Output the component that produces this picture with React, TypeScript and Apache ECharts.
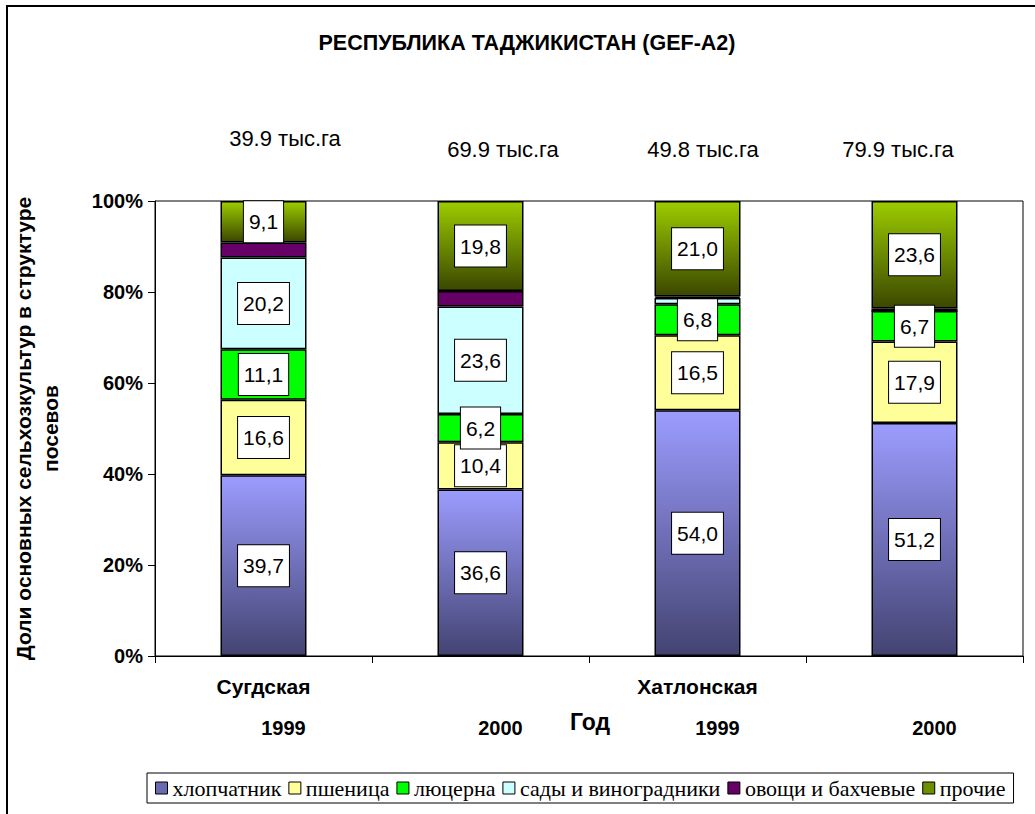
import React, { useEffect, useRef } from 'react';
import * as echarts from 'echarts';

const categories = ['Сугдская 1999', 'Сугдская 2000', 'Хатлонская 1999', 'Хатлонская 2000'];
const regionLabels = ['Сугдская', '', 'Хатлонская', ''];
const yearLabels = ['1999', '2000', '1999', '2000'];
const totals = ['39.9 тыс.га', '69.9 тыс.га', '49.8 тыс.га', '79.9 тыс.га'];
const seriesNames = ['хлопчатник', 'пшеница', 'люцерна', 'сады и виноградники', 'овощи и бахчевые', 'прочие'];
const cotton = [39.7, 36.6, 54.0, 51.2];
const wheat = [16.6, 10.4, 16.5, 17.9];
const alfalfa = [11.1, 6.2, 6.8, 6.7];
const orchards = [20.2, 23.6, 1.4, 0];
const vegetables = [3.3, 3.4, 0.3, 0.6];
const other = [9.1, 19.8, 21.0, 23.6];
const yMin = 0;
const yMax = 100;
const yStep = 20;

const SANS = '"Liberation Sans", Arial, sans-serif';
const SERIF = '"Liberation Serif", "Times New Roman", serif';

const grad = (top: string, bottom: string) =>
  new echarts.graphic.LinearGradient(0, 0, 0, 1, [
    { offset: 0, color: top },
    { offset: 1, color: bottom },
  ]);

const fills = [
  grad('#9c9cff', '#434372'),
  '#ffff99',
  '#00ff00',
  '#ccffff',
  '#660066',
  grad('#9ccc00', '#3b4700'),
];
const legendColors = ['#6a6ab0', '#ffff99', '#00ff00', '#ccffff', '#660066', '#6e8f00'];

export default function App() {
  const ref = useRef<HTMLDivElement>(null);

  useEffect(() => {
    document.body.style.margin = '0';
    if (!ref.current) return;
    const chart = echarts.init(ref.current, null, { renderer: 'svg' });
    const values = [cotton, wheat, alfalfa, orchards, vegetables, other];

    const series = seriesNames.map((name, si) => ({
      name,
      type: 'bar',
      stack: 'total',
      barWidth: 86,
      xAxisIndex: 0,
      itemStyle: { color: fills[si], borderColor: '#000', borderWidth: 1.5 },
      label: {
        show: true,
        position: 'inside',
        color: '#000',
        fontFamily: SANS,
        fontSize: 21,
        backgroundColor: '#fff',
        borderColor: '#000',
        borderWidth: 1,
        padding: [11, 5, 9, 5],
        formatter: (p: any) => Number(p.value).toFixed(1).replace('.', ','),
      },
      data: values[si].map((v) => ({ value: v, label: { show: v >= 5 } })),
    }));

    const totalX = [285, 503, 703, 898];
    const totalY = [138, 149, 149, 149];

    chart.setOption({
      animation: false,
      backgroundColor: '#fff',
      textStyle: { fontFamily: SANS },
      grid: {
        left: 155,
        right: 12,
        top: 201,
        bottom: 158,
        show: true,
        borderColor: '#000',
        borderWidth: 1,
        backgroundColor: 'transparent',
      },
      legend: {
        left: 147,
        top: 773,
        orient: 'horizontal',
        borderColor: '#000',
        borderWidth: 1,
        padding: [4, 8, 4, 8],
        itemGap: 7,
        itemWidth: 12,
        itemHeight: 12,
        icon: 'rect',
        textStyle: { fontFamily: SERIF, fontSize: 22, color: '#000', padding: [0, 0, 0, 0] },
        itemStyle: { borderColor: '#000', borderWidth: 1 },
        data: seriesNames.map((n, i) => ({ name: n, itemStyle: { color: legendColors[i], borderColor: '#000', borderWidth: 1 } })),
      },
      xAxis: [
        {
          type: 'category',
          data: categories,
          position: 'bottom',
          axisLine: { lineStyle: { color: '#000', width: 1 } },
          axisTick: { show: true, length: 7, interval: 0, lineStyle: { color: '#000' } },
          axisLabel: {
            interval: 0,
            margin: 20,
            fontFamily: SANS,
            fontWeight: 'bold',
            fontSize: 21,
            color: '#000',
            formatter: (_v: string, i: number) => regionLabels[i],
          },
        },
        {
          type: 'category',
          data: categories,
          position: 'bottom',
          axisLine: { show: false },
          axisTick: { show: false },
          axisLabel: {
            interval: 0,
            margin: 62,
            fontFamily: SANS,
            fontWeight: 'bold',
            fontSize: 20,
            color: '#000',
            padding: [0, 0, 0, 40],
            formatter: (_v: string, i: number) => yearLabels[i],
          },
        },
      ],
      yAxis: {
        type: 'value',
        min: yMin,
        max: yMax,
        interval: yStep,
        name: 'Доли основных сельхозкультур в структуре\nпосевов',
        nameLocation: 'middle',
        nameRotate: 90,
        nameGap: 91,
        nameTextStyle: { fontFamily: SANS, fontWeight: 'bold', fontSize: 21, color: '#000', lineHeight: 27, align: 'center' },
        axisLine: { show: true, lineStyle: { color: '#000', width: 1 } },
        axisTick: { show: true, length: 7, lineStyle: { color: '#000' } },
        splitLine: { show: false },
        axisLabel: {
          margin: 12,
          fontFamily: SANS,
          fontWeight: 'bold',
          fontSize: 20,
          color: '#000',
          formatter: '{value}%',
        },
      },
      graphic: [
        {
          type: 'rect',
          silent: true,
          shape: { x: 7, y: 6, width: 1100, height: 900 },
          style: { fill: 'none', stroke: '#000', lineWidth: 2 },
        },
        {
          type: 'text',
          x: 527,
          y: 43,
          style: {
            text: 'РЕСПУБЛИКА ТАДЖИКИСТАН (GEF-A2)',
            fontFamily: SANS,
            fontWeight: 'bold',
            fontSize: 21.5,
            fill: '#000',
            align: 'center',
            verticalAlign: 'middle',
          },
        },
        ...totals.map((t, i) => ({
          type: 'text',
          x: totalX[i],
          y: totalY[i],
          style: {
            text: t,
            fontFamily: SANS,
            fontSize: 22,
            fill: '#000',
            align: 'center',
            verticalAlign: 'middle',
          },
        })),
        {
          type: 'text',
          x: 590,
          y: 722,
          style: {
            text: 'Год',
            fontFamily: SANS,
            fontWeight: 'bold',
            fontSize: 23,
            fill: '#000',
            align: 'center',
            verticalAlign: 'middle',
          },
        },
      ],
      series,
    });

    return () => {
      chart.dispose();
    };
  }, []);

  return <div ref={ref} style={{ width: 1035, height: 814 }} />;
}
